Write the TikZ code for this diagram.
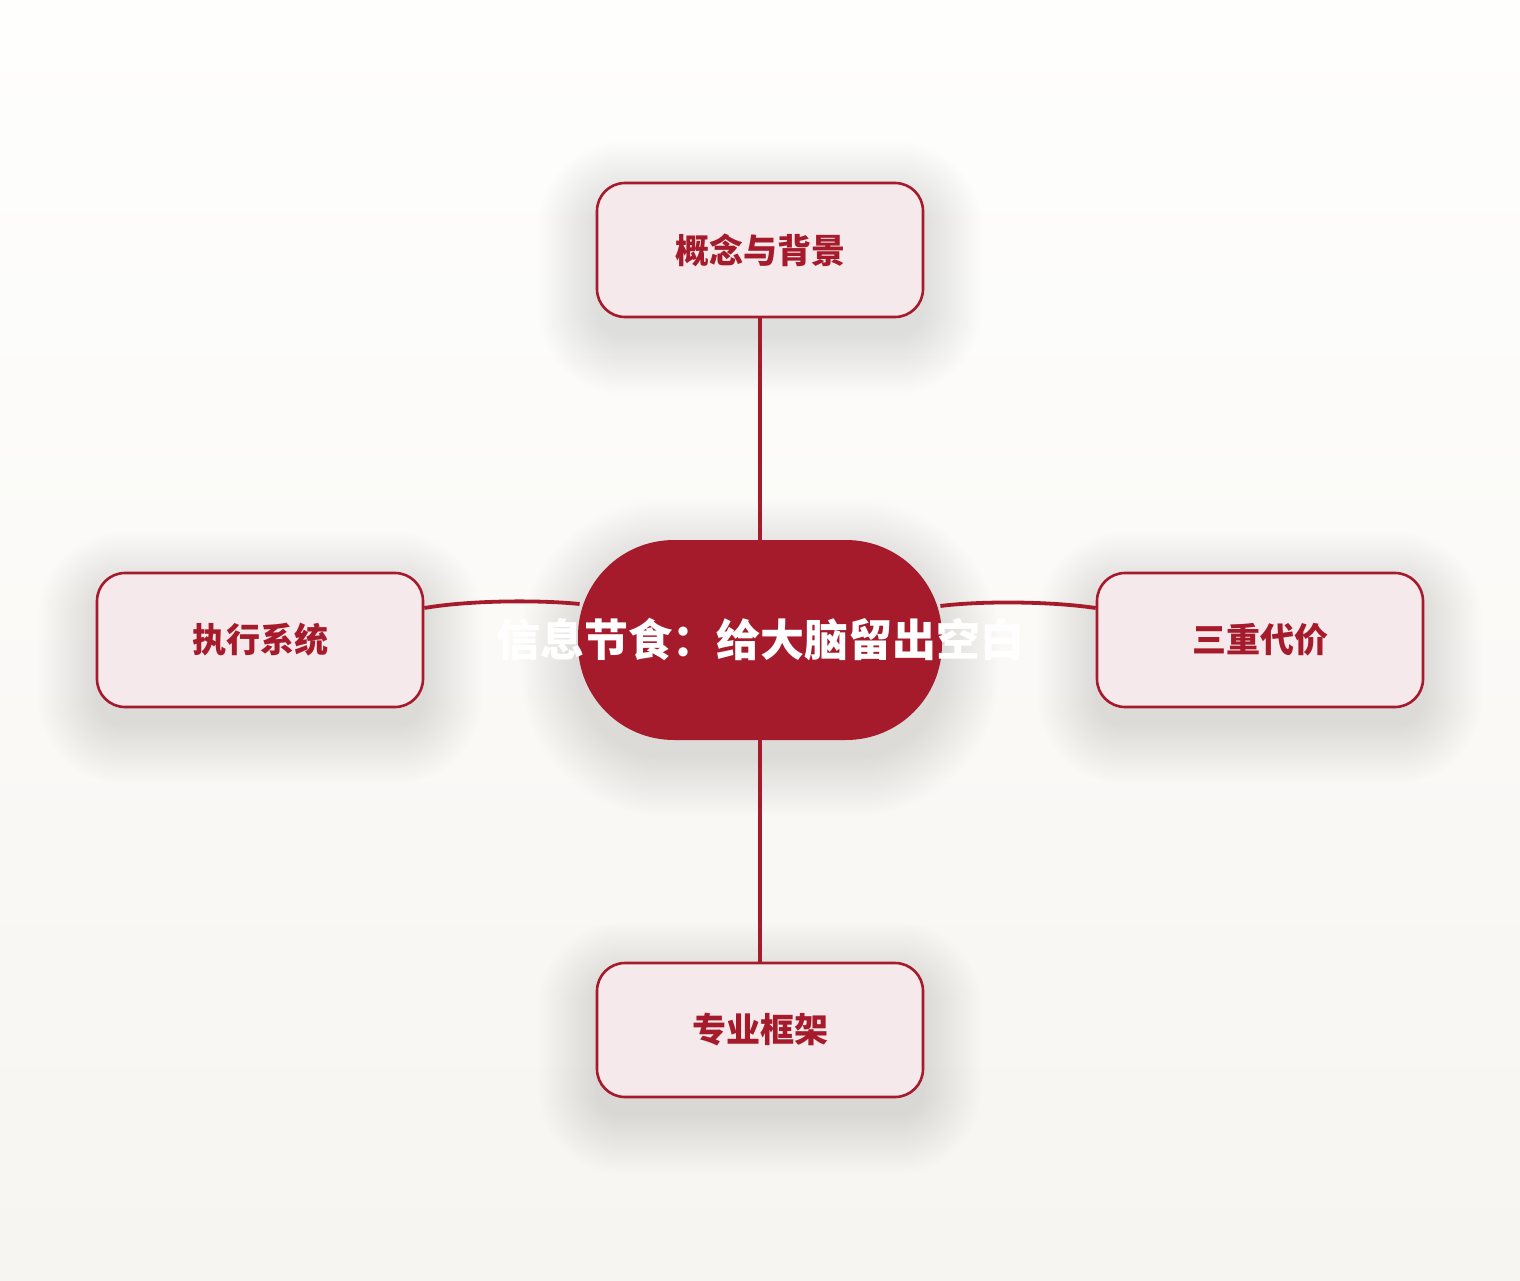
\documentclass[tikz,border=0pt]{standalone}
\usepackage{fontspec}
\newfontfamily\cjk{Noto Sans CJK SC}
\usetikzlibrary{calc}
\definecolor{brand}{HTML}{A51B2B}
\definecolor{boxfill}{HTML}{F5E9EB}
\definecolor{bgtop}{HTML}{FEFEFD}
\definecolor{bgbot}{HTML}{F7F5F1}
\pgfdeclarelayer{bg}
\pgfdeclarelayer{shadowlayer}
\pgfdeclarelayer{lines}
\pgfsetlayers{bg,shadowlayer,lines,main}
\newcommand\nodeshadow[2]{%
  \begin{pgfonlayer}{shadowlayer}
  \foreach \g in {0,2,...,58} {
    \pgfmathsetlengthmacro\rr{#2+\g*0.5pt}
    \fill[black!85!brown, opacity=0.0052, rounded corners=\rr]
      ($(#1.south west)+(-\g,18+\g)$) rectangle ($(#1.north east)+(\g,18-\g)$);
  }
  \end{pgfonlayer}}
\begin{document}
\begin{tikzpicture}[x=0.5pt,y=-0.5pt,
  branch/.style={draw=brand, line width=1.3pt, fill=boxfill, rounded corners=14pt,
    minimum width=163pt, minimum height=67pt, inner sep=0pt,
    font=\cjk\bfseries\fontsize{17}{20}\selectfont, text=brand},
  hub/.style={fill=brand, rounded corners=48pt, minimum width=182pt, minimum height=100pt,
    inner sep=0pt, font=\cjk\bfseries\fontsize{22}{26}\selectfont, text=white},
  link/.style={draw=brand, line width=1.9pt}]
\useasboundingbox (0,0) rectangle (1520,1280);
\begin{pgfonlayer}{bg}
  \shade[top color=bgtop, bottom color=bgbot] (0,0) rectangle (1520,1280);
\end{pgfonlayer}

\node[hub] (hub) at (760,640) {\raisebox{-1pt}{\makebox[0pt]{信息节食：给大脑留出空白}}};
\node[branch] (top) at (760,250) {\raisebox{-1.5pt}{概念与背景}};
\node[branch] (left) at (260,640) {\raisebox{-1.5pt}{执行系统}};
\node[branch] (right) at (1260,640) {\raisebox{-1.5pt}{三重代价}};
\node[branch] (bottom) at (760,1030) {\raisebox{-1.5pt}{专业框架}};

\nodeshadow{hub}{44pt}
\nodeshadow{top}{14pt}
\nodeshadow{left}{14pt}
\nodeshadow{right}{14pt}
\nodeshadow{bottom}{14pt}

\begin{pgfonlayer}{lines}
  \draw[link] (top.south) -- (hub.north);
  \draw[link] (hub.south) -- (bottom.north);
  \draw[link] ($(left.east)+(0,-32)$) .. controls ($(left.east)+(47,-40)$) and ($(left.east)+(117,-40)$) .. ($(hub.west)+(2,-36)$);
  \draw[link] ($(hub.east)+(-2,-34)$) .. controls ($(right.west)+(-117,-39)$) and ($(right.west)+(-47,-39)$) .. ($(right.west)+(0,-32)$);
\end{pgfonlayer}
\end{tikzpicture}
\end{document}
